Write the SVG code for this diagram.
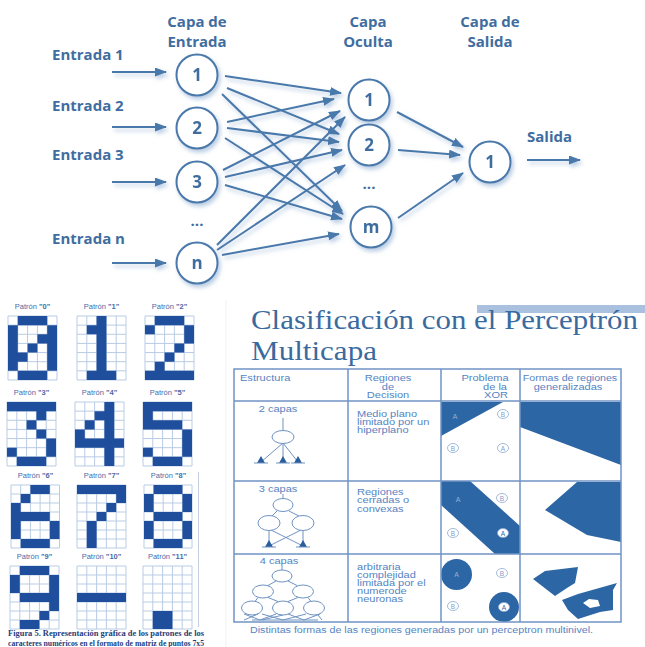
<svg xmlns="http://www.w3.org/2000/svg" xmlns:xlink="http://www.w3.org/1999/xlink" width="645" height="647" viewBox="0 0 645 647">
<defs>
<style>
.t{font-family:"Open Sans","DejaVu Sans",sans-serif;font-weight:700;fill:#3f6d9f}
.lbl{font-size:15px}
.hd{font-size:15px;text-anchor:middle}
.num{font-size:17px;text-anchor:middle}
.nd{fill:#fff;stroke:#4a78aa;stroke-width:2}
.cn{stroke:#4a78aa;stroke-width:2;fill:none;marker-end:url(#ah)}
.pl{font-family:"Liberation Sans",Arial,sans-serif;font-size:7.5px;fill:#4a6aa8;text-anchor:middle}
.f{fill:#1f4f9c}
.cap{font-family:"Liberation Serif","Times New Roman",serif;font-weight:700;font-size:7.8px;fill:#1d3d7d;text-anchor:middle}
.ti{font-family:"Liberation Serif","Times New Roman",serif;font-size:28px;fill:#3a6b9f}
.tl{stroke:#7094c4;stroke-width:1.5;fill:none}
.tt{font-family:"Liberation Sans",Arial,sans-serif;font-size:8.5px;fill:#5584c2}
.dk{fill:#2d66a5}
.ns{stroke:#6f93c3;stroke-width:1;fill:#fff}
.nl{stroke:#6f93c3;stroke-width:1;fill:none}
.ft{fill:#2a5d9c}
.cl{fill:#fff;stroke:#8eaad2;stroke-width:.8}
.cs{font-family:"Liberation Sans",Arial,sans-serif;font-size:6.5px;fill:#7f9fcc;text-anchor:middle}
.ca{font-family:"Liberation Sans",Arial,sans-serif;font-size:7px;fill:#8fb0d8;text-anchor:middle}
</style>
<marker id="ah" viewBox="0 0 12 9" refX="11" refY="4.5" markerWidth="12" markerHeight="9" markerUnits="userSpaceOnUse" orient="auto">
<path d="M0 0L12 4.5L0 9z" fill="#4a78aa"/>
</marker>
<filter id="sh" x="-10%" y="-10%" width="120%" height="130%">
<feDropShadow dx="2" dy="3" stdDeviation="2.2" flood-color="#7fa3cc" flood-opacity="0.55"/>
</filter>
<path id="g" d="M0 0H5M0 1H5M0 2H5M0 3H5M0 4H5M0 5H5M0 6H5M0 7H5M0 0V7M1 0V7M2 0V7M3 0V7M4 0V7M5 0V7" fill="none" stroke="#b9cbe5" stroke-width="1" vector-effect="non-scaling-stroke"/>
</defs>
<rect width="645" height="647" fill="#fff"/>

<!-- ============ TOP: neural network ============ -->
<g id="layer-titles" class="t">
<text class="hd" x="197" y="27">Capa de</text>
<text class="hd" x="197" y="47">Entrada</text>
<text class="hd" x="368" y="27">Capa</text>
<text class="hd" x="368" y="47">Oculta</text>
<text class="hd" x="490" y="27">Capa de</text>
<text class="hd" x="490" y="47">Salida</text>
</g>
<g id="input-labels" class="t">
<text class="lbl" x="52" y="60">Entrada 1</text>
<text class="lbl" x="52" y="111">Entrada 2</text>
<text class="lbl" x="52" y="160">Entrada 3</text>
<text class="lbl" x="52" y="244">Entrada n</text>
<text class="lbl" x="527" y="142">Salida</text>
</g>

<g id="connectors" filter="url(#sh)">
<line class="cn" x1="112" y1="72" x2="166" y2="72"/>
<line class="cn" x1="112" y1="127" x2="166" y2="127"/>
<line class="cn" x1="112" y1="182" x2="166" y2="182"/>
<line class="cn" x1="112" y1="263" x2="166" y2="263"/>
<line class="cn" x1="225" y1="76" x2="341" y2="93"/>
<line class="cn" x1="227" y1="88" x2="339" y2="134"/>
<line class="cn" x1="222" y1="94" x2="342" y2="211"/>
<line class="cn" x1="227" y1="122" x2="334" y2="99"/>
<line class="cn" x1="227" y1="128" x2="339" y2="142"/>
<line class="cn" x1="225" y1="138" x2="343" y2="214"/>
<line class="cn" x1="223" y1="170" x2="340" y2="111"/>
<line class="cn" x1="225" y1="177" x2="342" y2="150"/>
<line class="cn" x1="225" y1="185" x2="342" y2="219"/>
<line class="cn" x1="217" y1="245" x2="345" y2="117"/>
<line class="cn" x1="217" y1="250" x2="345" y2="165"/>
<line class="cn" x1="222" y1="255" x2="339" y2="234"/>
<line class="cn" x1="397" y1="112" x2="463" y2="147"/>
<line class="cn" x1="398" y1="150" x2="460" y2="155"/>
<line class="cn" x1="398" y1="218" x2="463" y2="173"/>
<line class="cn" x1="527" y1="160" x2="580" y2="160"/>
</g>

<g filter="url(#sh)">
<g id="in1"><circle class="nd" cx="197" cy="75" r="20.5"/><text class="t num" x="197" y="81">1</text></g>
<g id="in2"><circle class="nd" cx="197" cy="128" r="20.5"/><text class="t num" x="197" y="134">2</text></g>
<g id="in3"><circle class="nd" cx="197" cy="182" r="20.5"/><text class="t num" x="197" y="188">3</text></g>
<g id="inn"><circle class="nd" cx="197" cy="263" r="20.5"/><text class="t num" x="197" y="269">n</text></g>
<g id="h1"><circle class="nd" cx="369" cy="100" r="20.5"/><text class="t num" x="369" y="106">1</text></g>
<g id="h2"><circle class="nd" cx="369" cy="145" r="20.5"/><text class="t num" x="369" y="151">2</text></g>
<g id="hm"><circle class="nd" cx="371" cy="227" r="20.5"/><text class="t num" x="371" y="233">m</text></g>
<g id="out1"><circle class="nd" cx="490" cy="162" r="20.5"/><text class="t num" x="490" y="168">1</text></g>
</g>
<g id="dots" class="t">
<text class="num" x="197" y="226" style="font-size:15px">...</text>
<text class="num" x="369" y="189" style="font-size:15px">...</text>
</g>

<!-- ============ BOTTOM LEFT: patterns ============ -->
<g id="patterns">
<g id="pt0"><text class="pl" x="32.5" y="309">Patrón <tspan font-weight="bold">"0"</tspan></text>
<g transform="translate(8 316) scale(9.8 9.14)"><use xlink:href="#g"/><path class="f" d="M1 0h3v1h-3zM0 1h1v5h-1zM4 1h1v5h-1zM3 2h1v1h-1zM2 3h1v1h-1zM1 4h1v1h-1zM1 6h3v1h-3z"/></g></g>
<g id="pt1"><text class="pl" x="101.5" y="309">Patrón <tspan font-weight="bold">"1"</tspan></text>
<g transform="translate(77 316) scale(9.8 9.14)"><use xlink:href="#g"/><path class="f" d="M2 0h1v7h-1zM1 1h1v1h-1zM1 6h1v1h-1zM3 6h1v1h-1z"/></g></g>
<g id="pt2"><text class="pl" x="169.5" y="309">Patrón <tspan font-weight="bold">"2"</tspan></text>
<g transform="translate(145 316) scale(9.8 9.14)"><use xlink:href="#g"/><path class="f" d="M1 0h3v1h-3zM0 1h1v1h-1zM4 1h1v2h-1zM3 3h1v1h-1zM2 4h1v1h-1zM1 5h1v1h-1zM0 6h5v1h-5z"/></g></g>

<g id="pt3"><text class="pl" x="31.5" y="395">Patrón <tspan font-weight="bold">"3"</tspan></text>
<g transform="translate(7 402) scale(9.8 9.14)"><use xlink:href="#g"/><path class="f" d="M0 0h5v1h-5zM3 1h1v1h-1zM2 2h1v1h-1zM3 3h1v1h-1zM4 4h1v2h-1zM0 5h1v1h-1zM1 6h3v1h-3z"/></g></g>
<g id="pt4"><text class="pl" x="99.5" y="395">Patrón <tspan font-weight="bold">"4"</tspan></text>
<g transform="translate(75 402) scale(9.8 9.14)"><use xlink:href="#g"/><path class="f" d="M3 0h1v7h-1zM2 1h1v1h-1zM1 2h1v1h-1zM0 3h1v1h-1zM0 4h3v1h-3zM4 4h1v1h-1z"/></g></g>
<g id="pt5"><text class="pl" x="167.5" y="395">Patrón <tspan font-weight="bold">"5"</tspan></text>
<g transform="translate(143 402) scale(9.8 9.14)"><use xlink:href="#g"/><path class="f" d="M0 0h5v1h-5zM0 1h1v1h-1zM0 2h4v1h-4zM4 3h1v3h-1zM0 5h1v1h-1zM1 6h3v1h-3z"/></g></g>

<g id="pt6"><text class="pl" x="35.5" y="478">Patrón <tspan font-weight="bold">"6"</tspan></text>
<g transform="translate(11 485) scale(9.7 9)"><use xlink:href="#g"/><path class="f" d="M2 0h2v1h-2zM1 1h1v1h-1zM0 2h1v4h-1zM1 3h3v1h-3zM4 4h1v2h-1zM1 6h3v1h-3z"/></g></g>
<g id="pt7"><text class="pl" x="101.5" y="478">Patrón <tspan font-weight="bold">"7"</tspan></text>
<g transform="translate(77 485) scale(9.8 9)"><use xlink:href="#g"/><path class="f" d="M0 0h5v1h-5zM4 1h1v1h-1zM3 2h1v1h-1zM2 3h1v1h-1zM1 4h1v3h-1z"/></g></g>
<g id="pt8"><text class="pl" x="168.5" y="478">Patrón <tspan font-weight="bold">"8"</tspan></text>
<g transform="translate(144 485) scale(9.6 9)"><use xlink:href="#g"/><path class="f" d="M1 0h3v1h-3zM0 1h1v2h-1zM4 1h1v2h-1zM1 3h3v1h-3zM0 4h1v2h-1zM4 4h1v2h-1zM1 6h3v1h-3z"/></g></g>

<g id="pt9"><text class="pl" x="34.5" y="559">Patrón <tspan font-weight="bold">"9"</tspan></text>
<g transform="translate(10 566) scale(9.8 9)"><use xlink:href="#g"/><path class="f" d="M1 0h3v1h-3zM0 1h1v2h-1zM4 1h1v4h-1zM1 3h3v1h-3zM3 5h1v1h-1zM1 6h2v1h-2z"/></g></g>
<g id="pt10"><text class="pl" x="101.5" y="559">Patrón <tspan font-weight="bold">"10"</tspan></text>
<g transform="translate(77 566) scale(9.8 9)"><use xlink:href="#g"/><path class="f" d="M0 3h5v1h-5z"/></g></g>
<g id="pt11"><text class="pl" x="167.5" y="559">Patrón <tspan font-weight="bold">"11"</tspan></text>
<g transform="translate(143 566) scale(9.8 9)"><use xlink:href="#g"/><path class="f" d="M1 5h2v2h-2z"/></g></g>

<line x1="198.5" y1="472" x2="198.5" y2="627" stroke="#c3cfe0" stroke-width="1"/>
<text class="cap" x="106" y="636" textLength="196" lengthAdjust="spacingAndGlyphs">Figura 5. Representación gráfica de los patrones de los</text>
<text class="cap" x="106" y="645.5" textLength="196" lengthAdjust="spacingAndGlyphs">caracteres numéricos en el formato de matriz de puntos 7x5</text>
</g>

<!-- ============ BOTTOM RIGHT: table ============ -->
<g id="perceptron-table">
<line x1="226" y1="300" x2="226" y2="647" stroke="#eef1f6" stroke-width="1"/>
<rect x="477" y="305" width="168" height="8" fill="#a9c1df"/>
<text class="ti" x="251" y="329" textLength="387" lengthAdjust="spacingAndGlyphs">Clasificación con el Perceptrón</text>
<text class="ti" x="251" y="360" textLength="126" lengthAdjust="spacingAndGlyphs">Multicapa</text>

<!-- shaded cells -->
<polygon class="dk" points="441,402 503,402 441,436"/>
<polygon class="dk" points="520,402 621,402 621,465 520,427"/>
<polygon class="dk" points="441,481 470,481 520,526 520,554 495,554 441,505"/>
<polygon class="dk" points="577,482 621,482 621,542 587,535 545,510"/>
<circle class="dk" cx="456.5" cy="574.5" r="15.5"/>
<circle class="dk" cx="504" cy="607" r="15"/>
<polygon class="dk" points="533,579 545,571 578,567 575,583 567,588 555,596"/>
<path class="dk" fill-rule="evenodd" d="M562 600L578 594L617 583L613 590L613 610L600 612L578 619L568 610ZM583 603L589 599L598 600L600 606L590 608Z"/>

<!-- grid -->
<rect class="tl" x="234" y="369" width="387" height="253"/>
<path class="tl" d="M348 369V622M441 369V622M520 369V622M234 401H621M234 481H621M234 554H621"/>

<!-- header -->
<text class="tt" transform="matrix(1.3 0 0 1 240 381)">Estructura</text>
<g text-anchor="middle">
<text class="tt" transform="matrix(1.3 0 0 1 388 381)">Regiones</text>
<text class="tt" transform="matrix(1.3 0 0 1 388 390)">de</text>
<text class="tt" transform="matrix(1.3 0 0 1 388 398)">Decision</text>
<text class="tt" transform="matrix(1.3 0 0 1 485 381)">Problema</text>
<text class="tt" transform="matrix(1.3 0 0 1 495 390)">de la</text>
<text class="tt" transform="matrix(1.3 0 0 1 496 398)">XOR</text>
<text class="tt" transform="matrix(1.25 0 0 1 570 381)">Formas de regiones</text>
<text class="tt" transform="matrix(1.3 0 0 1 568 390)">generalizadas</text>
<text class="tt" transform="matrix(1.3 0 0 1 278 412)">2 capas</text>
<text class="tt" transform="matrix(1.3 0 0 1 278 492)">3 capas</text>
<text class="tt" transform="matrix(1.3 0 0 1 279 564)">4 capas</text>
</g>

<!-- decision region texts -->
<text class="tt" transform="matrix(1.3 0 0 1 357 417)">Medio plano</text>
<text class="tt" transform="matrix(1.3 0 0 1 357 425)">limitado por un</text>
<text class="tt" transform="matrix(1.3 0 0 1 357 433)">hiperplano</text>
<text class="tt" transform="matrix(1.3 0 0 1 357 495)">Regiones</text>
<text class="tt" transform="matrix(1.3 0 0 1 357 503)">cerradas o</text>
<text class="tt" transform="matrix(1.3 0 0 1 357 512)">convexas</text>
<text class="tt" transform="matrix(1.3 0 0 1 357 570)">arbitraria</text>
<text class="tt" transform="matrix(1.3 0 0 1 357 578)">complejidad</text>
<text class="tt" transform="matrix(1.3 0 0 1 357 586)">limitada por el</text>
<text class="tt" transform="matrix(1.3 0 0 1 357 594)">numerode</text>
<text class="tt" transform="matrix(1.3 0 0 1 357 602)">neuronas</text>

<!-- 2 capas -->
<g id="net2">
<path class="nl" d="M283 418V430M283 443L261 462M283 443V462M283 443L298 462"/>
<ellipse class="ns" cx="283" cy="437" rx="11" ry="6.5"/>
<path class="ft" d="M261 456l4 7h-8zM283 456l4 7h-8zM298 456l4 7h-8z"/>
<path class="nl" d="M254 463h14M276 463h14M291 463h14"/>
</g>
<!-- 3 capas -->
<g id="net3">
<path class="nl" d="M283 494V499M277 511L272 516M289 511L299 516M269 531V546M303 531V546M271 530L303 546M301 530L269 546"/>
<ellipse class="ns" cx="283" cy="505" rx="10" ry="6.5"/>
<ellipse class="ns" cx="269" cy="523" rx="11" ry="7.5"/>
<ellipse class="ns" cx="303" cy="523" rx="11" ry="7.5"/>
<path class="ft" d="M269 540l4 7h-8zM303 540l4 7h-8z"/>
<path class="nl" d="M262 547h14M296 547h14"/>
</g>
<!-- 4 capas -->
<g id="net4">
<path class="nl" d="M282 566V570M276 581L268 585.5M288 581L297 585.5M258 597.5L255 601.5M268 597.5L278 601.5M298 597.5L288 601.5M308 597.5L311 601.5M244 614L260 620L276 614M258 614L244 620M262 620L283 615M288 614L304 620L320 614M306 614L283 620L262 614M318 615L322 620M252 620H318"/>
<ellipse class="ns" cx="282" cy="576" rx="10" ry="6"/>
<ellipse class="ns" cx="263" cy="591.5" rx="10.5" ry="6.5"/>
<ellipse class="ns" cx="303" cy="591.5" rx="10.5" ry="6.5"/>
<ellipse class="ns" cx="252" cy="608" rx="10.5" ry="7"/>
<ellipse class="ns" cx="283" cy="608" rx="10.5" ry="7"/>
<ellipse class="ns" cx="314" cy="608" rx="10.5" ry="7"/>
</g>

<!-- XOR labels -->
<text class="ca" x="455" y="419">A</text>
<ellipse class="cl" cx="503" cy="414" rx="5.5" ry="4.5"/><text class="cs" x="503" y="416.5">B</text>
<ellipse class="cl" cx="453" cy="448" rx="5.5" ry="4.5"/><text class="cs" x="453" y="450.5">B</text>
<ellipse class="cl" cx="503" cy="448" rx="5.5" ry="4.5"/><text class="cs" x="503" y="450.5">A</text>
<text class="ca" x="458" y="502">A</text>
<ellipse class="cl" cx="502" cy="498" rx="5.5" ry="4.5"/><text class="cs" x="502" y="500.5">B</text>
<ellipse class="cl" cx="453" cy="533" rx="5.5" ry="4.5"/><text class="cs" x="453" y="535.5">B</text>
<ellipse class="cl" cx="503" cy="533" rx="5.5" ry="4.5"/><text class="cs" x="503" y="535.5" style="fill:#2d66a5">A</text>
<text class="ca" x="456.5" y="577">A</text>
<ellipse class="cl" cx="502" cy="573" rx="5.5" ry="4.5"/><text class="cs" x="502" y="575.5">B</text>
<ellipse class="cl" cx="453" cy="606" rx="5.5" ry="4.5"/><text class="cs" x="453" y="608.5">B</text>
<ellipse class="cl" cx="504" cy="607" rx="5.5" ry="4.5"/><text class="cs" x="504" y="609.5" style="fill:#2d66a5">A</text>

<text class="tt" x="250" y="633" textLength="343" lengthAdjust="spacingAndGlyphs">Distintas formas de las regiones generadas por un perceptron multinivel.</text>
</g>
</svg>
